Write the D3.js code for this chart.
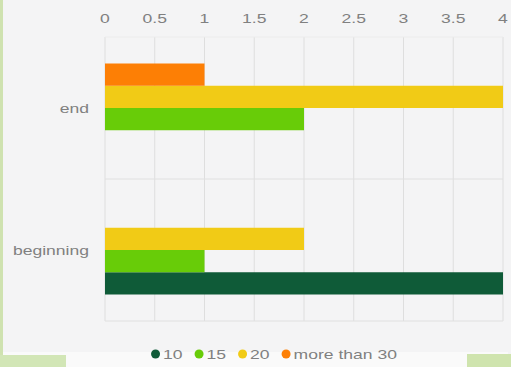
<!DOCTYPE html>
<html>
<head>
<meta charset="utf-8">
<script src="https://cdn.jsdelivr.net/npm/d3@7"></script>
<style>
  html, body { margin: 0; padding: 0; background: #f4f4f5; }
  svg { display: block; }
  text { font-family: "Liberation Sans", Arial, sans-serif; fill: #808080; }
</style>
</head>
<body>
<svg id="chart" width="511" height="367"></svg>
<script>
// Chart data
const categories = ["end", "beginning"];
const seriesNames = ["10", "15", "20", "more than 30"];
const values10 = [0, 4];
const values15 = [2, 1];
const values20 = [4, 2];
const valuesMore30 = [1, 0];
const xTicks = [0, 0.5, 1, 1.5, 2, 2.5, 3, 3.5, 4];
const seriesColors = ["#0f5b38", "#68cc08", "#f1cb16", "#fd7f05"];

const seriesValues = [values10, values15, values20, valuesMore30];
const rows = categories.map((c, i) => ({
  category: c,
  items: seriesNames.map((s, j) => ({ series: s, value: seriesValues[j][i] }))
}));

const svg = d3.select("#chart");
const W = 511, H = 367;
const TX = 1.35; // horizontal text stretch

// decorative card edges
svg.append("rect").attr("x", 0).attr("y", 0).attr("width", 3).attr("height", H).attr("fill", "#cfe2b0");
svg.append("rect").attr("x", 3).attr("y", 352).attr("width", 505).attr("height", 15).attr("fill", "#fafafa");
svg.append("rect").attr("x", 0).attr("y", 355).attr("width", 66).attr("height", 12).attr("fill", "#d2e6b6");
svg.append("rect").attr("x", 467).attr("y", 354).attr("width", 44).attr("height", 13).attr("fill", "#cfe4ae");

const x = d3.scaleLinear().domain([0, 4]).range([105, 503]);
const y0 = d3.scaleBand().domain(categories).range([37, 321]).paddingInner(0);
const innerOrder = ["more than 30", "20", "15", "10"];
const pad = 26.5;
const y1 = d3.scaleBand().domain(innerOrder).range([pad, y0.bandwidth() - pad]);
const color = d3.scaleOrdinal().domain(seriesNames).range(seriesColors);

// grid
const grid = svg.append("g");
grid.selectAll("line.v").data(xTicks).join("line")
  .attr("x1", d => x(d)).attr("x2", d => x(d))
  .attr("y1", 37).attr("y2", 321)
  .attr("stroke", "#dedede").attr("stroke-width", 1);
const hLines = categories.map(c => y0(c)).concat([y0(categories[categories.length - 1]) + y0.bandwidth()]);
grid.selectAll("line.h").data(hLines).join("line")
  .attr("x1", x(0)).attr("x2", x(4))
  .attr("y1", d => d).attr("y2", d => d)
  .attr("stroke", (d, i) => i === 0 ? "#ececec" : "#e0e0e0").attr("stroke-width", 1);

// top axis
const axis = svg.append("g").attr("transform", "translate(0,23)")
  .call(d3.axisTop(x).tickValues(xTicks).tickSize(0).tickPadding(0).tickFormat(d3.format("")));
axis.select(".domain").remove();
axis.selectAll("text")
  .attr("font-size", 13).attr("y", 0).attr("dy", 0)
  .attr("fill", "#808080")
  .attr("transform", d => `translate(${x(d)},0) scale(${TX},1) translate(${-x(d)},0)`);
axis.selectAll(".tick").each(function (d) {
  d3.select(this).attr("transform", null);
  d3.select(this).select("text").attr("x", x(d));
});

// bars
const groups = svg.append("g").selectAll("g").data(rows).join("g")
  .attr("transform", d => `translate(0,${y0(d.category)})`);
groups.selectAll("rect").data(d => d.items.filter(it => it.value > 0)).join("rect")
  .attr("x", x(0))
  .attr("y", d => y1(d.series))
  .attr("width", d => x(d.value) - x(0))
  .attr("height", y1.bandwidth())
  .attr("fill", d => color(d.series));

// category labels
svg.append("g").selectAll("text").data(categories).join("text")
  .attr("x", 0).attr("y", 0)
  .attr("text-anchor", "end")
  .attr("font-size", 13)
  .attr("transform", d => `translate(89,${y0(d) + y0.bandwidth() / 2 + 5}) scale(${TX},1)`)
  .text(d => d);

// legend
const legend = svg.append("g");
let lx = 0;
seriesNames.forEach((s, i) => {
  const g = legend.append("g").attr("transform", `translate(${lx},0)`);
  g.append("circle").attr("cx", 4.5).attr("cy", 0).attr("r", 4.5).attr("fill", color(s));
  const t = g.append("text").attr("x", 0).attr("y", 5).attr("font-size", 13)
    .attr("transform", `translate(12,0) scale(${TX},1)`).text(s);
  const w = t.node().getComputedTextLength() * TX;
  lx += 12 + w + 12;
});
const legendW = lx - 12;
legend.attr("transform", `translate(${274 - legendW / 2},354)`);
</script>
</body>
</html>
